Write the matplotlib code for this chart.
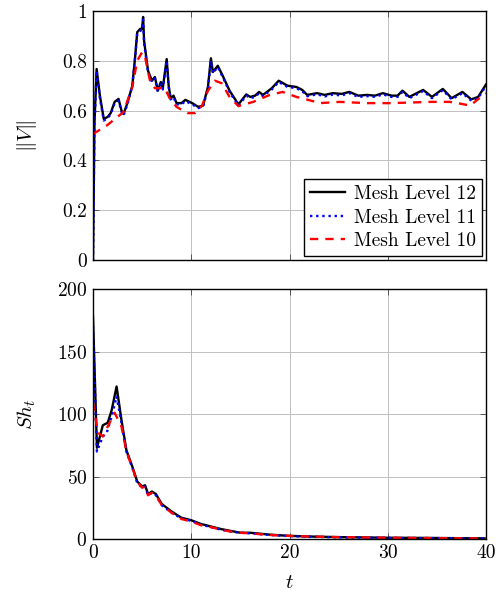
import matplotlib
matplotlib.use("Agg")
import matplotlib.pyplot as plt

plt.rcParams['font.family'] = 'serif'
plt.rcParams['font.serif'] = ['cmr10']
plt.rcParams['mathtext.fontset'] = 'cm'
plt.rcParams['axes.formatter.use_mathtext'] = True

# ---- top panel: ||V|| ----
t12 = [0, 0.15, 0.37, 0.7, 1.1, 1.5, 1.8, 2.2, 2.6, 2.9, 3.1, 3.5, 4.0, 4.3, 4.5, 4.8, 5.0, 5.1, 5.2,
       5.6, 6.0, 6.3, 6.6, 6.9, 7.1, 7.5, 7.7, 7.9, 8.2, 8.5, 9.0, 9.4, 10.1, 10.7, 11.2, 11.7, 12.0,
       12.2, 12.7, 13.2, 13.9, 14.8, 15.6, 16.0, 16.5, 16.9, 17.3, 18.2, 18.9, 19.8, 20.7, 21.3, 21.8,
       22.8, 23.6, 24.4, 25.3, 26.1, 27.0, 27.9, 28.7, 29.5, 30.4, 31.0, 31.5, 32.2, 33.6, 34.5, 35.6,
       36.5, 37.6, 38.5, 39.2, 40.0]
V12 = [0.0, 0.55, 0.767, 0.66, 0.566, 0.575, 0.59, 0.635, 0.647, 0.60, 0.586, 0.63, 0.70, 0.82, 0.915,
       0.928, 0.93, 0.976, 0.88, 0.76, 0.72, 0.735, 0.68, 0.715, 0.69, 0.807, 0.70, 0.65, 0.66, 0.63,
       0.63, 0.643, 0.63, 0.615, 0.62, 0.695, 0.81, 0.755, 0.78, 0.74, 0.68, 0.625, 0.665, 0.655, 0.66,
       0.675, 0.663, 0.69, 0.72, 0.70, 0.695, 0.683, 0.663, 0.67, 0.663, 0.67, 0.667, 0.675, 0.66,
       0.663, 0.66, 0.67, 0.66, 0.66, 0.68, 0.655, 0.683, 0.655, 0.687, 0.65, 0.675, 0.645, 0.655, 0.705]

t11 = [0, 0.15, 0.37, 0.7, 1.1, 1.5, 1.8, 2.2, 2.6, 2.9, 3.1, 3.5, 4.0, 4.3, 4.5, 4.8, 5.0, 5.1, 5.2,
       5.6, 6.0, 6.3, 6.6, 6.9, 7.1, 7.5, 7.7, 7.9, 8.2, 8.5, 9.0, 9.4, 10.1, 10.7, 11.2, 11.7, 12.0,
       12.2, 12.7, 13.2, 13.9, 14.8, 15.6, 16.0, 16.5, 16.9, 17.3, 18.2, 18.9, 19.8, 20.7, 21.3, 21.8,
       22.8, 23.6, 24.4, 25.3, 26.1, 27.0, 27.9, 28.7, 29.5, 30.4, 31.0, 31.5, 32.2, 33.6, 34.5, 35.6,
       36.5, 37.6, 38.5, 39.2, 40.0]
V11 = [0.0, 0.54, 0.76, 0.65, 0.56, 0.57, 0.585, 0.63, 0.64, 0.595, 0.58, 0.625, 0.70, 0.82, 0.91,
       0.92, 0.925, 0.965, 0.87, 0.755, 0.715, 0.73, 0.675, 0.71, 0.685, 0.80, 0.695, 0.645, 0.655, 0.625,
       0.625, 0.638, 0.625, 0.61, 0.615, 0.69, 0.80, 0.75, 0.775, 0.735, 0.675, 0.62, 0.66, 0.65, 0.655,
       0.67, 0.658, 0.685, 0.715, 0.695, 0.69, 0.678, 0.658, 0.665, 0.657, 0.664, 0.661, 0.67, 0.655,
       0.658, 0.655, 0.665, 0.655, 0.655, 0.675, 0.65, 0.678, 0.65, 0.682, 0.645, 0.67, 0.64, 0.65, 0.70]

t10 = [0, 1.4, 3.1, 4.0, 4.5, 5.0, 5.3, 5.8, 6.3, 7.3, 7.8, 8.5, 9.6, 10.4, 11.1, 11.7, 12.4, 13.1,
       13.9, 14.8, 16.3, 18.0, 19.3, 20.7, 21.9, 23.1, 25.1, 27.9, 30.2, 32.0, 34.3, 36.3, 37.5, 38.4,
       39.1, 40.0]
V10 = [0.506, 0.54, 0.594, 0.695, 0.80, 0.835, 0.815, 0.72, 0.69, 0.69, 0.65, 0.615, 0.59, 0.59,
       0.62, 0.68, 0.72, 0.71, 0.655, 0.618, 0.635, 0.663, 0.675, 0.655, 0.643, 0.63, 0.635, 0.63,
       0.63, 0.632, 0.635, 0.635, 0.627, 0.62, 0.643, 0.67]

# ---- bottom panel: Sh_t ----
ts12 = [0, 0.4, 0.7, 1.0, 1.5, 1.9, 2.4, 2.9, 3.4, 4.0, 4.5, 5.0, 5.3, 5.6, 6.0, 6.4, 7.0, 8.0, 9.0,
        10.0, 11.0, 12.0, 13.0, 14.0, 15.0, 16.0, 18.0, 20.0, 22.0, 25.0, 30.0, 35.0, 40.0]
Sh12 = [178, 73, 82, 91, 93, 103, 122, 95, 71, 58, 46, 42, 43, 36, 38, 36, 28, 22, 17, 15, 12, 10,
        8, 6.5, 5, 5, 3.5, 2.5, 2, 1.5, 1, 0.8, 0.5]
ts11 = [0, 0.4, 0.7, 1.0, 1.4, 1.9, 2.4, 2.9, 3.4, 4.0, 4.5, 5.0, 5.3, 5.6, 6.0, 6.4, 7.0, 8.0, 9.0,
        10.0, 11.0, 12.0, 13.0, 14.0, 15.0, 16.0, 18.0, 20.0, 22.0, 25.0, 30.0, 35.0, 40.0]
Sh11 = [170, 70, 76, 82, 85, 98, 114, 93, 70, 57, 45, 41, 42, 35, 37, 35, 27, 21, 16.5, 14.5, 11.5, 9.5,
        7.5, 6, 5, 4.5, 3.2, 2.3, 1.8, 1.3, 0.9, 0.7, 0.4]
ts10 = [0, 0.5, 1.0, 1.5, 2.2, 2.9, 3.4, 4.0, 4.5, 5.0, 5.3, 5.6, 6.0, 6.4, 7.0, 8.0, 9.0, 10.0, 11.0,
        12.0, 13.0, 14.0, 15.0, 16.0, 18.0, 20.0, 22.0, 25.0, 30.0, 35.0, 40.0]
Sh10 = [109, 85, 82, 90, 101, 90, 70, 57, 46, 41, 42, 35, 37, 35, 27, 21, 16, 14, 11, 9.5, 7.5, 6,
        5, 4.5, 3.2, 2.5, 2, 1.5, 1, 0.7, 0.4]

labels = ['Mesh Level 12', 'Mesh Level 11', 'Mesh Level 10']
xticks = [0, 10, 20, 30, 40]
yticks_top = [0, 0.2, 0.4, 0.6, 0.8, 1]
yticks_bot = [0, 50, 100, 150, 200]

fig = plt.figure(figsize=(4.96, 5.94), dpi=100)
ax1 = fig.add_axes([93/496, 1-260/594, 393/496, 249/594])
ax2 = fig.add_axes([93/496, 1-539/594, 393/496, 250/594])

def style(ax):
    ax.grid(True, color='#c0c0c0', linewidth=0.7)
    ax.set_axisbelow(True)
    ax.tick_params(direction='in', which='both', top=True, right=True, length=4,
                   width=0.7, color='#555555', labelsize=14, pad=4)
    for s in ax.spines.values():
        s.set_linewidth(1.0)
    ax.set_xlim(0, 40)
    ax.set_xticks(xticks)

ax1.plot(t12, V12, color='black', lw=1.7, label=labels[0])
ax1.plot(t11, V11, color='blue', lw=1.7, linestyle=(0, (1, 1.6)), label=labels[1])
ax1.plot(t10, V10, color='red', lw=1.7, linestyle=(0, (3.5, 3)), label=labels[2])
style(ax1)
ax1.set_ylim(0, 1)
ax1.set_yticks(yticks_top)
ax1.set_yticklabels(['0', '0.2', '0.4', '0.6', '0.8', '1'])
ax1.set_xticklabels([])
ax1.set_ylabel(r'$\|V\|$', fontsize=15, labelpad=17)
leg = ax1.legend(loc='lower right', fontsize=14, frameon=True, fancybox=False,
                 edgecolor='black', framealpha=1, borderaxespad=0.2, handlelength=1.8,
                 labelspacing=0.3, borderpad=0.3, handletextpad=0.5)
leg.get_frame().set_linewidth(1.0)

ax2.plot(ts12, Sh12, color='black', lw=1.7)
ax2.plot(ts11, Sh11, color='blue', lw=1.7, linestyle=(0, (1, 1.6)))
ax2.plot(ts10, Sh10, color='red', lw=1.7, linestyle=(0, (3.5, 3)))
style(ax2)
ax2.set_ylim(0, 200)
ax2.set_yticks(yticks_bot)
ax2.set_xticklabels([str(v) for v in xticks])
ax2.set_ylabel(r'$Sh_t$', fontsize=15, labelpad=14)
ax2.set_xlabel(r'$t$', fontsize=15, labelpad=8)

fig.savefig('out.png', dpi=100)
